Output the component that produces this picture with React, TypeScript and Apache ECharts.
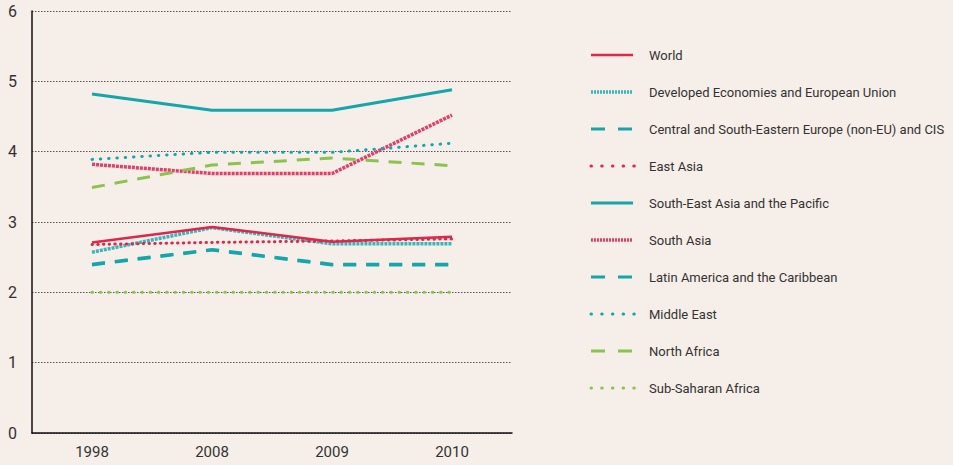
import React, { useEffect, useRef } from "react";
import * as echarts from "echarts";

const years = ["1998", "2008", "2009", "2010"];
const names = [
  "World",
  "Developed Economies and European Union",
  "Central and South-Eastern Europe (non-EU) and CIS",
  "East Asia",
  "South-East Asia and the Pacific",
  "South Asia",
  "Latin America and the Caribbean",
  "Middle East",
  "North Africa",
  "Sub-Saharan Africa",
];
const world = [2.71, 2.93, 2.72, 2.79];
const developed = [2.57, 2.92, 2.69, 2.69];
const centralEurope = [2.39, 2.6, 2.39, 2.39];
const eastAsia = [2.68, 2.71, 2.73, 2.76];
const seAsia = [4.82, 4.59, 4.59, 4.88];
const southAsia = [3.82, 3.69, 3.69, 4.52];
const latinAmerica = [2.4, 2.61, 2.4, 2.4];
const middleEast = [3.89, 3.99, 3.99, 4.12];
const northAfrica = [3.49, 3.81, 3.91, 3.8];
const subSaharan = [2.0, 2.0, 2.0, 2.0];

const RED = "#e0264c";
const CYAN = "#14a6aa";
const LCYAN = "#3bb5b8";
const PINK = "#e2406a";
const GREEN = "#8cc24f";
const FONT = "Roboto, 'Open Sans', sans-serif";

type Sty = { color: string; width: number; dash: any; legendDash: any; cap: string };
const styles: Sty[] = [
  { color: RED, width: 2.5, dash: "solid", legendDash: null, cap: "butt" },
  { color: LCYAN, width: 3.5, dash: [3, 1], legendDash: [2, 1], cap: "butt" },
  { color: CYAN, width: 3, dash: [13, 10], legendDash: [14, 13], cap: "butt" },
  { color: RED, width: 3, dash: [0.5, 5.2], legendDash: [0.5, 10.2], cap: "round" },
  { color: CYAN, width: 3, dash: "solid", legendDash: null, cap: "butt" },
  { color: PINK, width: 3.5, dash: [3, 1], legendDash: [2, 1], cap: "butt" },
  { color: CYAN, width: 3, dash: [13, 10], legendDash: [14, 13], cap: "butt" },
  { color: CYAN, width: 3, dash: [0.5, 7.8], legendDash: [0.5, 10.2], cap: "round" },
  { color: GREEN, width: 3, dash: [13, 10], legendDash: [14, 13], cap: "butt" },
  { color: GREEN, width: 3, dash: [0.5, 7.8], legendDash: [0.5, 10.2], cap: "round" },
];
const seriesData = [world, developed, centralEurope, eastAsia, seAsia, southAsia, latinAmerica, middleEast, northAfrica, subSaharan];
const zs = [5, 4, 3, 6, 3, 3, 3, 3, 3, 3];

export default function App() {
  const ref = useRef<HTMLDivElement>(null);
  useEffect(() => {
    const chart = echarts.init(ref.current!, undefined, { renderer: "svg" });
    const legendTop = 55;
    const legendStep = 37;
    const graphics: any[] = [];
    names.forEach((n, i) => {
      const s = styles[i];
      const y = legendTop + i * legendStep;
      const dotted = s.cap === "round";
      graphics.push({
        type: "line",
        shape: { x1: 591, y1: y, x2: dotted ? 635 : 633, y2: y },
        style: {
          stroke: s.color,
          lineWidth: dotted ? 3 : s.width,
          lineDash: s.legendDash,
          lineCap: s.cap,
        },
      });
      graphics.push({
        type: "text",
        x: 649,
        y,
        style: {
          text: n,
          fill: "#333",
          font: `13px ${FONT}`,
          verticalAlign: "middle",
        },
      });
    });
    chart.setOption({
      animation: false,
      backgroundColor: "#f6eee8",
      textStyle: { fontFamily: FONT },
      grid: { left: 32, right: 441, top: 11, bottom: 32 },
      xAxis: {
        type: "category",
        data: years,
        boundaryGap: true,
        axisLine: { lineStyle: { color: "#111", width: 1.5 } },
        axisTick: { inside: true, length: 6, lineStyle: { color: "#111" } },
        axisLabel: { color: "#333", fontSize: 15, margin: 11, fontFamily: FONT },
      },
      yAxis: {
        type: "value",
        min: 0,
        max: 6,
        interval: 1,
        axisLine: { show: true, lineStyle: { color: "#111", width: 1.5 } },
        axisTick: { show: false },
        axisLabel: { color: "#333", fontSize: 16, margin: 15, fontFamily: FONT },
        splitLine: { lineStyle: { color: "#555", type: [1.5, 1.5], width: 1 } },
      },
      graphic: graphics,
      series: names.map((n, i) => ({
        name: n,
        type: "line",
        data: seriesData[i],
        symbol: "none",
        z: zs[i],
        lineStyle: { color: styles[i].color, width: styles[i].width, type: styles[i].dash, cap: styles[i].cap },
        itemStyle: { color: styles[i].color },
      })),
    });
    return () => chart.dispose();
  }, []);
  return <div ref={ref} style={{ width: 953, height: 465, position: "absolute", left: 0, top: 0 }} />;
}
